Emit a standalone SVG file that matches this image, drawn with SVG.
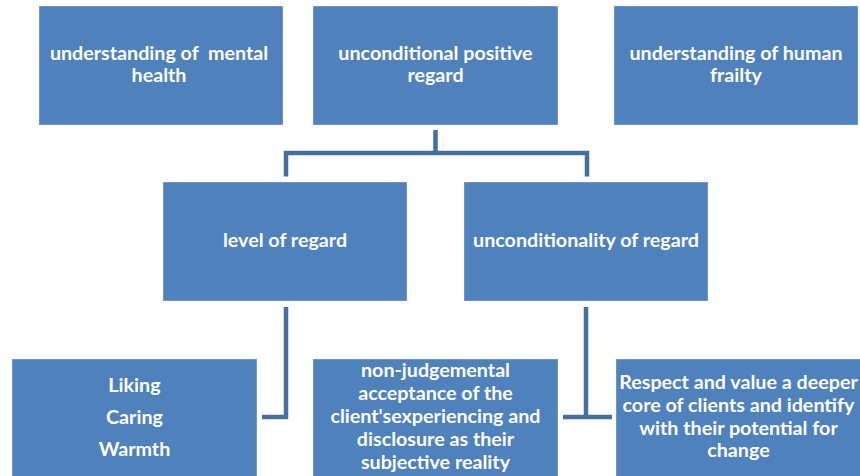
<svg xmlns="http://www.w3.org/2000/svg" width="860" height="476" viewBox="0 0 860 476">
<style>
.box{fill:#4f81bd;stroke:#6d96c9;stroke-width:1}
.t{font-family:Lato,"Open Sans","Liberation Sans",sans-serif;font-weight:bold;font-size:19.7px;fill:#ffffff;text-anchor:middle}
.c{fill:none;stroke:#43709f;stroke-width:4.5;stroke-linejoin:miter}
</style>
<rect width="860" height="476" fill="#ffffff"/>
<g id="connectors">
<path class="c" d="M435.5,130 V153 M286,176.5 V153 H587 V176.5"/>
<path class="c" d="M286,307 V417 H262"/>
<path class="c" d="M586,307 V417 M563,417 H612"/>
</g>
<g id="n1"><rect class="box" x="39.5" y="6.5" width="243" height="118"/>
<text class="t" xml:space="preserve"><tspan x="159" y="60">understanding of  mental</tspan><tspan x="159" y="82">health</tspan></text></g>
<g id="n2"><rect class="box" x="313.5" y="6.5" width="244" height="118"/>
<text class="t"><tspan x="435.5" y="60">unconditional positive</tspan><tspan x="435.5" y="82">regard</tspan></text></g>
<g id="n3"><rect class="box" x="614.5" y="6.5" width="243" height="118"/>
<text class="t"><tspan x="736" y="60">understanding of human</tspan><tspan x="736" y="82">frailty</tspan></text></g>
<g id="n4"><rect class="box" x="163.5" y="182.5" width="243" height="118"/>
<text class="t" x="285" y="247">level of regard</text></g>
<g id="n5"><rect class="box" x="464.5" y="182.5" width="243" height="118"/>
<text class="t" x="586" y="247">unconditionality of regard</text></g>
<g id="n6"><rect class="box" x="12.5" y="359.5" width="244" height="125"/>
<text class="t"><tspan x="134.5" y="392">Liking</tspan><tspan x="134.5" y="424">Caring</tspan><tspan x="134.5" y="456">Warmth</tspan></text></g>
<g id="n7"><rect class="box" x="313.5" y="359.5" width="244" height="125"/>
<text class="t"><tspan x="435.5" y="377">non-judgemental</tspan><tspan x="435.5" y="400">acceptance of the</tspan><tspan x="435.5" y="423">client'sexperiencing and</tspan><tspan x="435.5" y="446">disclosure as their</tspan><tspan x="435.5" y="469">subjective reality</tspan></text></g>
<g id="n8"><rect class="box" x="616.5" y="359.5" width="250" height="125"/>
<text class="t"><tspan x="738.5" y="389">Respect and value a deeper</tspan><tspan x="738.5" y="412">core of clients and identify</tspan><tspan x="738.5" y="435">with their potential for</tspan><tspan x="738.5" y="457">change</tspan></text></g>
</svg>
